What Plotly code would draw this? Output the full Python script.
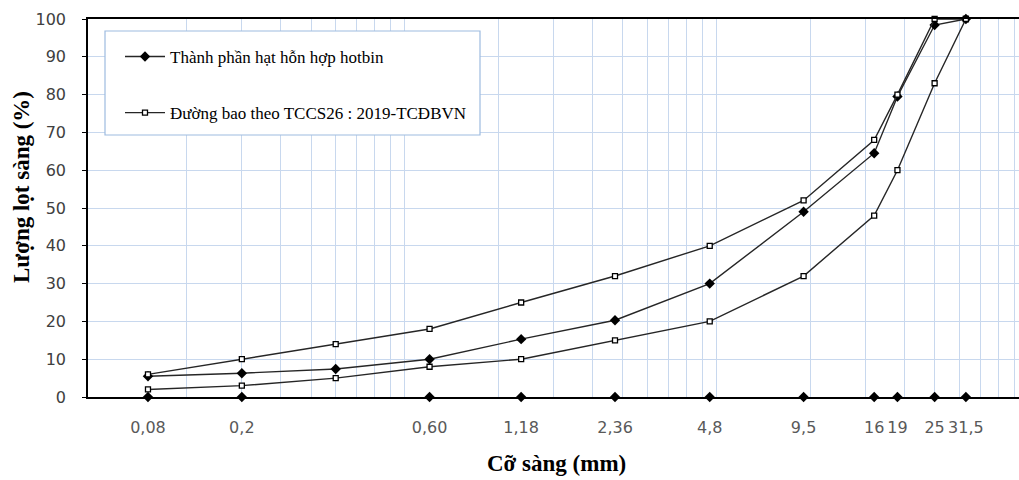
import plotly.graph_objects as go

# Sieve sizes (mm) and passing percentages
sieve_mm = [0.075, 0.15, 0.3, 0.6, 1.18, 2.36, 4.75, 9.5, 16, 19, 25, 31.5]
hotbin_pass = [5.5, 6.3, 7.4, 10, 15.3, 20.3, 30, 49, 64.5, 79.5, 98.4, 100]
env_upper = [6, 10, 14, 18, 25, 32, 40, 52, 68, 80, 100, 100]
env_lower = [2, 3, 5, 8, 10, 15, 20, 32, 48, 60, 83, 100]

# Labelled sieve positions along the bottom axis
label_mm = [0.075, 0.15, 0.6, 1.18, 2.36, 4.75, 9.5, 16, 19, 25, 31.5]
label_text = ["0,08", "0,2", "0,60", "1,18", "2,36", "4,8", "9,5", "16", "19", "25", "31,5"]
label_zero = [0] * len(label_mm)

# Vertical grid positions on the log axis
grid_mm = [0.1, 0.15, 0.2, 0.25, 0.3, 0.35, 0.4, 0.45, 0.5,
           1, 1.5, 2, 2.5, 3, 3.5, 4, 4.5, 5,
           10, 15, 20, 25, 30, 35, 40, 45]

W, H = 1019, 480
ML, MR, MT, MB = 88, 0, 19, 83
PW, PH = W - ML - MR, H - MT - MB

def px(xp):
    return (xp - ML) / PW

def py(yp):
    return (H - MB - yp) / PH

LINE = "#262626"
GRID = "#c8d8ee"
SERIF = "Liberation Serif, Times New Roman, serif"
SANS = "DejaVu Sans, Verdana, sans-serif"

fig = go.Figure()

fig.add_trace(go.Scatter(
    x=sieve_mm, y=hotbin_pass, mode="lines+markers",
    name="Thành phần hạt hỗn hợp hotbin", legendgroup="a",
    line=dict(color=LINE, width=1.4),
    marker=dict(symbol="diamond", size=8, color="#000000"),
    cliponaxis=False,
))
fig.add_trace(go.Scatter(
    x=sieve_mm, y=env_upper, mode="lines+markers",
    name="Đường bao theo TCCS26 : 2019-TCĐBVN", legendgroup="b",
    line=dict(color=LINE, width=1.4),
    marker=dict(symbol="square", size=5, color="#ffffff",
                line=dict(color="#000000", width=1.3)),
    cliponaxis=False,
))
fig.add_trace(go.Scatter(
    x=sieve_mm, y=env_lower, mode="lines+markers",
    name="Đường bao dưới", legendgroup="b", showlegend=False,
    line=dict(color=LINE, width=1.4),
    marker=dict(symbol="square", size=5, color="#ffffff",
                line=dict(color="#000000", width=1.3)),
    cliponaxis=False,
))
fig.add_trace(go.Scatter(
    x=label_mm, y=label_zero, mode="markers", showlegend=False,
    marker=dict(symbol="diamond", size=8, color="#000000"),
    cliponaxis=False, hoverinfo="skip",
))

# Legend frame
fig.add_shape(type="rect", xref="paper", yref="paper",
              x0=px(105), x1=px(480), y0=py(135), y1=py(31),
              fillcolor="#ffffff", line=dict(color="#9dbbe0", width=1.2),
              layer="above")

# Axis titles
fig.add_annotation(text="<b>Cỡ sàng (mm)</b>", xref="paper", yref="paper",
                   x=px(556), y=py(463), showarrow=False,
                   xanchor="center", yanchor="middle",
                   font=dict(family=SERIF, size=23, color="#000000"))
fig.add_annotation(text="<b>Lượng lọt sàng (%)</b>", xref="paper", yref="paper",
                   x=px(21), y=py(187), showarrow=False, textangle=-90,
                   xanchor="center", yanchor="middle",
                   font=dict(family=SERIF, size=23, color="#000000"))

fig.update_layout(
    width=W, height=H,
    margin=dict(l=ML, r=MR, t=MT, b=MB),
    paper_bgcolor="#ffffff", plot_bgcolor="#ffffff",
    showlegend=True,
    legend=dict(x=px(120), y=py(39), xanchor="left", yanchor="top",
                bgcolor="rgba(0,0,0,0)", borderwidth=0,
                font=dict(family=SERIF, size=17, color="#000000"),
                tracegroupgap=31, itemwidth=40),
    xaxis=dict(
        type="log", range=[-1.3173, 1.6686],
        tickmode="array", tickvals=label_mm, ticktext=label_text,
        ticks="", showgrid=False, zeroline=False,
        showline=True, linecolor="#000000", linewidth=1.5, mirror=True,
        tickfont=dict(family=SANS, size=16, color="#595959"),
        ticklabelstandoff=15,
        minor=dict(tickmode="array", tickvals=grid_mm, showgrid=True,
                   gridcolor=GRID, gridwidth=1, ticks=""),
    ),
    yaxis=dict(
        range=[0, 100], tickmode="linear", tick0=0, dtick=10,
        ticks="outside", ticklen=4, tickcolor="#000000",
        showgrid=True, gridcolor=GRID, gridwidth=1, zeroline=False,
        showline=True, linecolor="#000000", linewidth=1.5,
        tickfont=dict(family=SANS, size=16, color="#404040"),
        ticklabelstandoff=13,
    ),
)

fig.write_html("out.html")
